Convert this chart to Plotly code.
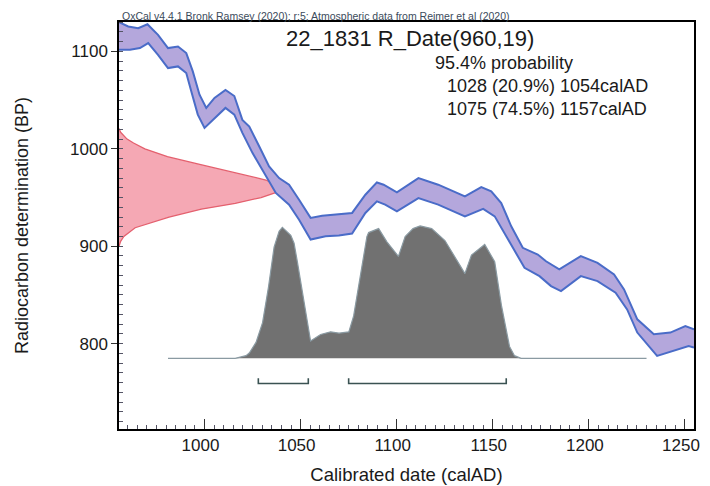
import plotly.graph_objects as go

# ---------------- data ----------------
# Calibration curve (IntCal20) upper / lower 1-sigma edges
cal_year_up = [955.5, 960.3, 965.5, 970.3, 975.8, 981.0, 986.2, 990.5, 993.9, 997.4,
               1000.9, 1005.2, 1010.9, 1015.5, 1019.7, 1023.3, 1028.5, 1033.6, 1038.8, 1044.0,
               1049.2, 1055.2, 1061.2, 1068.2, 1076.8, 1083.7, 1089.7, 1093.2, 1100.1, 1111.3,
               1121.6, 1135.5, 1144.0, 1149.2, 1154.4, 1159.6, 1165.6, 1173.4, 1177.7, 1184.6,
               1195.8, 1204.5, 1213.1, 1218.3, 1225.2, 1233.8, 1242.4, 1250.2, 1254.7]
cal_bp_up = [1130, 1125.6, 1123.8, 1127.9, 1117.0, 1103.4, 1105.1, 1098.3, 1079.5, 1055.6,
             1042.0, 1052.2, 1060.4, 1054.2, 1029.7, 1022.8, 1002.4, 981.9, 970.0, 963.2,
             947.8, 929.1, 931.4, 932.4, 934.2, 952.9, 965.5, 963.2, 955.3, 970.0,
             963.2, 951.2, 960.8, 956.3, 944.4, 920.5, 898.4, 891.5, 884.6, 876.2,
             889.8, 883.0, 871.0, 855.7, 825.0, 809.6, 811.4, 818.1, 814.7]
cal_year_lo = [955.5, 961.2, 966.4, 970.7, 975.8, 981.0, 986.2, 990.5, 993.1, 996.5,
               1000.0, 1005.2, 1010.9, 1015.5, 1019.7, 1025.0, 1031.9, 1037.1, 1044.0, 1049.2,
               1055.2, 1063.0, 1069.9, 1076.8, 1083.7, 1089.7, 1094.0, 1100.1, 1111.3, 1121.6,
               1135.5, 1145.0, 1151.0, 1157.9, 1166.5, 1174.3, 1180.3, 1185.5, 1195.8, 1204.5,
               1213.9, 1219.9, 1225.2, 1235.5, 1244.1, 1251.9, 1254.7]
cal_bp_lo = [1101.6, 1101.6, 1103.4, 1108.5, 1096.5, 1082.9, 1084.6, 1077.8, 1059.1, 1035.1,
             1021.5, 1031.7, 1042.0, 1035.1, 1016.4, 995.6, 971.6, 954.7, 942.7, 927.3,
             906.9, 910.2, 911.0, 913.0, 934.2, 946.1, 942.7, 935.8, 949.5, 942.7,
             930.7, 938.3, 930.7, 906.9, 877.9, 869.3, 859.1, 853.9, 869.3, 864.2,
             852.3, 835.2, 811.4, 787.4, 792.5, 797.6, 796.0]

# Radiocarbon measurement (960 ± 19 BP), relative probability per BP level
meas_bp = [1021, 1017, 1010, 1006, 1000, 992, 984, 976, 968, 963, 960,
           955, 950, 944, 938, 930, 924, 919, 910, 905, 900]
meas_p = [0.0, 0.01, 0.05, 0.09, 0.16, 0.30, 0.50, 0.70, 0.91, 0.97, 1.0,
          0.97, 0.88, 0.72, 0.51, 0.31, 0.19, 0.10, 0.03, 0.01, 0.0]

# Calibrated probability distribution (relative)
dist_year = [981, 1016, 1021.6, 1023.3, 1026.8, 1030.2, 1033.3, 1036.2, 1038.8, 1040.5,
             1044.9, 1046.6, 1048.3, 1051.8, 1055.2, 1060.4, 1065.6, 1070, 1075.1, 1077.6,
             1081.9, 1084.5, 1085.4, 1090.6, 1094.9, 1100.9, 1104.4, 1108.5, 1112.2, 1118.2,
             1125.1, 1135.5, 1138.9, 1145.8, 1151.0, 1154.5, 1158.7, 1161.3, 1164.7, 1230]
dist_p = [0, 0, 0.02, 0.04, 0.12, 0.27, 0.54, 0.84, 0.96, 0.99,
          0.93, 0.87, 0.73, 0.44, 0.13, 0.18, 0.20, 0.19, 0.20, 0.32,
          0.69, 0.92, 0.95, 0.98, 0.88, 0.77, 0.92, 0.98, 1.00, 0.98,
          0.89, 0.64, 0.78, 0.86, 0.73, 0.40, 0.09, 0.02, 0, 0]

# 95.4% ranges
range_from = [1028, 1075]
range_to = [1054, 1157]
range_pct = [20.9, 74.5]

sample_name = "22_1831 R_Date(960,19)"
header = "OxCal v4.4.1 Bronk Ramsey (2020); r:5; Atmospheric data from Reimer et al (2020)"

# ---------------- styling / layout constants ----------------
X_RANGE = [955.5, 1254.7]
Y_RANGE = [712.4, 1130.2]
Y2_RANGE = [-0.534, 2.541]
MEAS_PEAK_YEARS = 84.0
FONT = "Liberation Sans, Arial, sans-serif"

# The page keeps the browser's default 8px body margin, so design in screen
# pixels (S) and convert to figure pixels (F = S - 8).
W, H = 710, 486
OFF = 8


def f(s):
    return s - OFF


LF, RF, TF, BF = f(119), f(694), f(21), f(430)
margin = dict(l=LF, r=W - RF, t=TF, b=H - BF)


def paper_x(s):
    return (f(s) - LF) / (RF - LF)


def paper_y(s):
    return (BF - f(s)) / (BF - TF)


fig = go.Figure()

# measurement gaussian (red) on the y axis
meas_x = [X_RANGE[0] + p * MEAS_PEAK_YEARS for p in meas_p]
fig.add_trace(go.Scatter(
    x=[X_RANGE[0]] + meas_x + [X_RANGE[0]],
    y=[meas_bp[0]] + meas_bp + [meas_bp[-1]],
    mode="lines", fill="toself", fillcolor="rgba(238,110,130,0.6)",
    line=dict(color="#e4606e", width=1.3), hoverinfo="skip", showlegend=False))

# calibration curve band
fig.add_trace(go.Scatter(x=cal_year_lo, y=cal_bp_lo, mode="lines",
                         line=dict(color="#4a6cc8", width=2), showlegend=False))
fig.add_trace(go.Scatter(x=cal_year_up, y=cal_bp_up, mode="lines",
                         line=dict(color="#4a6cc8", width=2),
                         fill="tonexty", fillcolor="#b4a7dc", showlegend=False))

# calibrated distribution (gray) on y2
fig.add_trace(go.Scatter(x=dist_year, y=dist_p, yaxis="y2", mode="lines",
                         fill="tozeroy", fillcolor="#717171",
                         line=dict(color="#8a9aa2", width=1.2), showlegend=False))

# range brackets
for fr, to in zip(range_from, range_to):
    fig.add_trace(go.Scatter(x=[fr, fr, to, to], y=[-0.15, -0.19, -0.19, -0.15], yaxis="y2",
                             mode="lines", line=dict(color="#3a5252", width=1.6),
                             showlegend=False))

ann = [
    dict(text=header, x=paper_x(120), y=paper_y(15), xanchor="left", yanchor="middle",
         font=dict(size=10.5, color="#3c4c5c", family=FONT)),
    dict(text=sample_name, x=paper_x(410), y=paper_y(38), xanchor="center", yanchor="middle",
         font=dict(size=22, color="#1a1a1a", family=FONT)),
    dict(text="95.4% probability", x=paper_x(433), y=paper_y(62), xanchor="left",
         yanchor="middle", font=dict(size=18, color="#1a1a1a", family=FONT)),
]
for i, (fr, to, p) in enumerate(zip(range_from, range_to, range_pct)):
    ann.append(dict(text=f"{fr} ({p}%) {to}calAD", x=paper_x(445), y=paper_y(85 + 23 * i),
                    xanchor="left", yanchor="middle",
                    font=dict(size=18, color="#1a1a1a", family=FONT)))
for a in ann:
    a.update(xref="paper", yref="paper", showarrow=False)

fig.update_layout(
    width=W, height=H,
    margin=margin,
    paper_bgcolor="white", plot_bgcolor="white",
    font=dict(family=FONT, color="#1a1a1a", size=17),
    annotations=ann,
    xaxis=dict(range=X_RANGE, showgrid=False, zeroline=False,
               showline=True, linecolor="black", linewidth=1.5, mirror=True,
               ticks="inside", ticklen=10, tickwidth=1.3, tickcolor="#333",
               tick0=1000, dtick=50, ticklabelshift=-4,
               minor=dict(ticks="inside", ticklen=4, dtick=5, tick0=1000, tickcolor="#556"),
               tickfont=dict(size=17),
               title=dict(text="Calibrated date (calAD)", font=dict(size=18.5), standoff=14)),
    yaxis=dict(range=Y_RANGE, showgrid=False, zeroline=False,
               showline=True, linecolor="black", linewidth=1.5, mirror=True,
               ticks="outside", ticklen=6, tickwidth=1.3, tickcolor="#333",
               tick0=800, dtick=100,
               minor=dict(ticks="inside", ticklen=4, dtick=10, tick0=800, tickcolor="#556"),
               tickfont=dict(size=17),
               title=dict(text="Radiocarbon determination (BP)", font=dict(size=18),
                          standoff=37)),
    yaxis2=dict(range=Y2_RANGE, overlaying="y", visible=False),
)

fig.write_html("out.html", config={"displayModeBar": False})
